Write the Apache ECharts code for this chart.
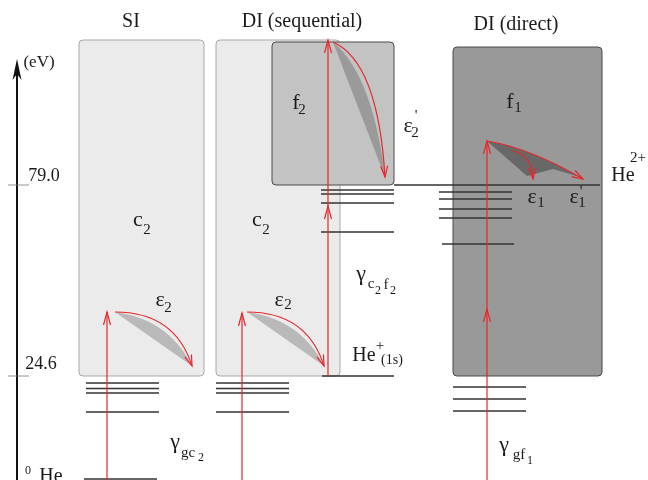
<!DOCTYPE html>
<html>
<head>
<meta charset="utf-8">
<script src="https://cdn.jsdelivr.net/npm/echarts@6/dist/echarts.min.js"></script>
<style>
  html, body { margin: 0; padding: 0; background: #fff; }
  #main { width: 648px; height: 480px; }
</style>
</head>
<body>
<div id="main"></div>
<script>
    // diagram units: x to the right, y downwards (0..648 x 0..480)
    // panels: [x0, yTop, x1, yBottom]  SI, DI seq (c2), f2, DI direct (f1)
    var panelBoxes = [[79, 40, 204, 376], [216, 40, 340, 376], [272, 42, 394, 185], [453, 47, 602, 376]];
    // energy axis: [x, yBottom, yTip], ticks at 79.0 and 24.6 eV
    var energyAxis = [17, 480, 59];
    var tickY = [185, 376];
    // bound levels: [x0, x1, y]
    var levelLines = [
        [84, 157, 479],
        [86, 159, 383], [86, 159, 388.5], [86, 159, 393], [86, 159, 412],
        [216, 289, 383], [216, 289, 388.5], [216, 289, 393], [216, 289, 412],
        [322, 394, 376],
        [321, 394, 190], [321, 394, 194], [321, 394, 203], [321, 394, 232],
        [394, 600, 185],
        [439, 512, 192], [439, 512, 199], [439, 512, 209], [439, 512, 218], [442, 514, 244],
        [453, 526, 387], [453, 526, 399], [453, 526, 411]
    ];
    // photon absorption arrows: [x, yFrom, yTo]
    var photonArrows = [
        [107, 480, 312],
        [242, 480, 313],
        [328, 376, 206], [328, 206, 40],
        [487, 480, 309], [487, 309, 141]
    ];
    // emitted electron arcs: [x0, y0, ctrlX, ctrlY, x1, y1]  eps2 (SI), eps2 (DI), eps2', eps1, eps1'
    var electronArcs = [
        [115, 312, 175, 312, 192, 366],
        [247, 312, 307, 312, 324, 366],
        [333, 42, 378, 62, 385, 177],
        [513, 151, 532, 155, 533, 179],
        [487, 141, 530, 148, 583, 179]
    ];
    // shaded fan of the direct process
    var directFan = [[487, 141], [510, 146], [535, 155], [560, 166], [580, 177], [553, 169], [527, 176]];
    // text: [text, x, y, kind]
    var textItems = [
        ['SI', 131, 22, 'title'], ['DI (sequential)', 302, 22, 'title'], ['DI (direct)', 516, 25, 'title'],
        ['(eV)', 39, 63, 'axis'], ['79.0', 44, 176, 'num'], ['24.6', 41, 364, 'num'],
        ['0', 28, 471, 'small'], ['He', 51, 477, 'main'],
        ['c', 138, 220, 'sym'], ['2', 147, 230, 'sub'],
        ['c', 257, 220, 'sym'], ['2', 266, 230, 'sub'],
        ['ε', 160, 300, 'sym'], ['2', 168, 308, 'sub'],
        ['ε', 279, 300, 'sym'], ['2', 288, 305, 'sub'],
        ['f', 296, 103, 'sym'], ['2', 302, 110, 'sub'],
        ['ε', 408, 126, 'sym'], ["'", 416, 116, 'sub'], ['2', 415, 133, 'sub'],
        ['f', 510, 102, 'sym'], ['1', 518, 108, 'sub'],
        ['ε', 532, 197, 'sym'], ['1', 541, 203, 'sub'],
        ['ε', 574, 197, 'sym'], ["'", 581, 192, 'sub'], ['1', 582, 203, 'sub'],
        ['He', 623, 176, 'main'], ['2+', 638, 158, 'sub'],
        ['γ', 361, 274, 'sym'], ['c', 371, 284, 'sub'], ['2', 378, 291, 'small'], ['f', 386, 285, 'sub'], ['2', 393, 291, 'small'],
        ['He', 364, 356, 'main'], ['+', 380, 346, 'sub'], ['(1s)', 392, 360, 'sub2'],
        ['γ', 175, 442, 'sym'], ['gc', 188, 453, 'sub'], ['2', 201, 458, 'small'],
        ['γ', 504, 445, 'sym'], ['gf', 519, 455, 'sub'], ['1', 530, 461, 'small']
    ];

    var red = '#e8262b';
    var serif = '"Liberation Serif", "DejaVu Serif", serif';
    var fontSizes = {title: 20, axis: 17, num: 18, main: 20, sym: 22, sub: 15, sub2: 14, small: 12};
    var boxFill = ['#ebebeb', '#ebebeb', '#c3c3c3', '#999999'];
    var boxStroke = ['#a9a9a9', '#a9a9a9', '#4a4a4a', '#4a4a4a'];
    var arcShade = ['#b9b9b9', '#b9b9b9', '#9a9a9a', null, null];

    function quad(p0, c, p1, t) {
        var a = (1 - t) * (1 - t), b = 2 * t * (1 - t), d = t * t;
        return [a * p0[0] + b * c[0] + d * p1[0], a * p0[1] + b * c[1] + d * p1[1]];
    }

    function openHead(tip, from, len, half) {
        var dx = tip[0] - from[0], dy = tip[1] - from[1];
        var n = Math.sqrt(dx * dx + dy * dy) || 1;
        dx /= n; dy /= n;
        var bx = tip[0] - dx * len, by = tip[1] - dy * len;
        return {
            type: 'polyline',
            shape: {points: [[bx - dy * half, by + dx * half], tip, [bx + dy * half, by - dx * half]]},
            style: {stroke: red, lineWidth: 1.2, fill: 'none'}
        };
    }

    var myChart = echarts.init(document.getElementById('main'));
    myChart.setOption({
        animation: false,
        backgroundColor: '#fff',
        grid: {left: 0, right: 0, top: 0, bottom: 0},
        xAxis: {type: 'value', min: 0, max: 648, show: false},
        yAxis: {type: 'value', min: 0, max: 480, inverse: true, show: false},
        series: [
            {
                // panels
                type: 'custom', z: 1,
                data: panelBoxes,
                renderItem: function (params, api) {
                    var a = api.coord([api.value(0), api.value(1)]);
                    var b = api.coord([api.value(2), api.value(3)]);
                    var i = params.dataIndex;
                    return {
                        type: 'rect',
                        shape: {x: a[0], y: a[1], width: b[0] - a[0], height: b[1] - a[1], r: 4},
                        style: {fill: boxFill[i], stroke: boxStroke[i], lineWidth: 1}
                    };
                }
            },
            {
                // energy axis with ticks
                type: 'custom', z: 2,
                data: [energyAxis],
                renderItem: function (params, api) {
                    var bottom = api.coord([api.value(0), api.value(1)]);
                    var tip = api.coord([api.value(0), api.value(2)]);
                    var children = [
                        {type: 'line', shape: {x1: bottom[0], y1: bottom[1], x2: tip[0], y2: tip[1] + 8},
                            style: {stroke: '#111', lineWidth: 2}},
                        {type: 'polygon', shape: {points: [tip, [tip[0] - 4.5, tip[1] + 21], [tip[0], tip[1] + 15], [tip[0] + 4.5, tip[1] + 21]]},
                            style: {fill: '#111'}}
                    ];
                    tickY.forEach(function (y) {
                        var p = api.coord([api.value(0), y]);
                        children.push({type: 'line', shape: {x1: p[0] - 9, y1: p[1], x2: p[0] + 12, y2: p[1]},
                            style: {stroke: '#777', lineWidth: 0.8}});
                    });
                    return {type: 'group', children: children};
                }
            },
            {
                // bound levels
                type: 'custom', z: 3,
                data: levelLines,
                renderItem: function (params, api) {
                    var a = api.coord([api.value(0), api.value(2)]);
                    var b = api.coord([api.value(1), api.value(2)]);
                    return {type: 'line', shape: {x1: a[0], y1: a[1], x2: b[0], y2: b[1]},
                        style: {stroke: '#333', lineWidth: 1.3}};
                }
            },
            {
                // shaded fan of direct double ionisation
                type: 'custom', z: 4,
                data: [directFan[0]],
                renderItem: function (params, api) {
                    var pts = directFan.map(function (p) { return api.coord(p); });
                    return {type: 'polygon', shape: {points: pts}, style: {fill: '#686868'}};
                }
            },
            {
                // electron arcs
                type: 'custom', z: 5,
                data: electronArcs,
                renderItem: function (params, api) {
                    var p0 = api.coord([api.value(0), api.value(1)]);
                    var c = api.coord([api.value(2), api.value(3)]);
                    var p1 = api.coord([api.value(4), api.value(5)]);
                    var children = [];
                    var shade = arcShade[params.dataIndex];
                    if (shade) {
                        var mid = [(p0[0] + p1[0]) / 2, (p0[1] + p1[1]) / 2];
                        var ic = [mid[0] + 0.72 * (c[0] - mid[0]), mid[1] + 0.72 * (c[1] - mid[1])];
                        var pts = [];
                        for (var k = 0; k <= 30; k++) pts.push(quad(p0, ic, p1, k / 30));
                        children.push({type: 'polygon', shape: {points: pts}, style: {fill: shade}});
                    }
                    children.push({
                        type: 'bezierCurve',
                        shape: {x1: p0[0], y1: p0[1], x2: p1[0], y2: p1[1], cpx1: c[0], cpy1: c[1]},
                        style: {stroke: red, lineWidth: 1.2, fill: 'none'}
                    });
                    children.push(openHead(p1, quad(p0, c, p1, 0.9), 11, 3.5));
                    return {type: 'group', children: children};
                }
            },
            {
                // photon arrows
                type: 'custom', z: 6,
                data: photonArrows,
                renderItem: function (params, api) {
                    var a = api.coord([api.value(0), api.value(1)]);
                    var b = api.coord([api.value(0), api.value(2)]);
                    return {
                        type: 'group',
                        children: [
                            {type: 'line', shape: {x1: a[0], y1: a[1], x2: b[0], y2: b[1]},
                                style: {stroke: red, lineWidth: 1.2}},
                            openHead(b, a, 13, 3.5)
                        ]
                    };
                }
            },
            {
                // labels
                type: 'custom', z: 7,
                data: textItems.map(function (t) { return [t[1], t[2]]; }),
                renderItem: function (params, api) {
                    var t = textItems[params.dataIndex];
                    var p = api.coord([api.value(0), api.value(1)]);
                    return {
                        type: 'text', x: p[0], y: p[1],
                        style: {text: t[0], fontSize: fontSizes[t[3]], fontFamily: serif, fill: '#1a1a1a',
                            align: 'center', verticalAlign: 'middle'}
                    };
                }
            }
        ]
    });
</script>
</body>
</html>
